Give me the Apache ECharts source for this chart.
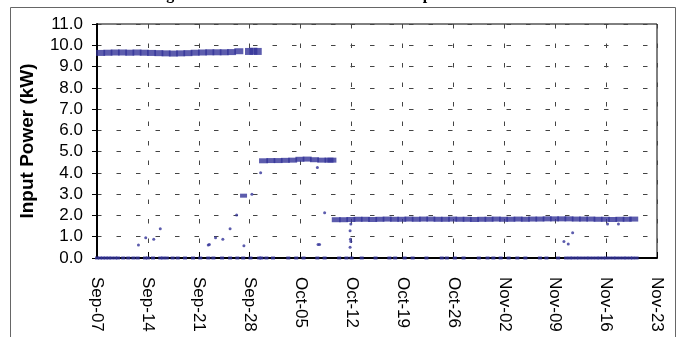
<!DOCTYPE html>
<html>
<head>
<meta charset="utf-8">
<script src="https://cdn.jsdelivr.net/npm/echarts@6/dist/echarts.min.js"></script>
<style>
    html, body { margin: 0; padding: 0; background: #fff; }
    #chart { width: 678px; height: 337px; }
</style>
</head>
<body>
<div id="chart"></div>
<script>
// x values are days since Sep-07
const tickLabels = ['Sep-07', 'Sep-14', 'Sep-21', 'Sep-28', 'Oct-05', 'Oct-12',
    'Oct-19', 'Oct-26', 'Nov-02', 'Nov-09', 'Nov-16', 'Nov-23'];

// full power band, Sep-07 .. Sep-27
const highDays = [0.5, 1.5, 2.5, 3.5, 4.5, 5.5, 6.5, 7.5, 8.5, 9.5,
    10.5, 11.5, 12.5, 13.5, 14.5, 15.5, 16.5, 17.5, 18.5, 19.5];
const highVals = [9.64, 9.65, 9.66, 9.66, 9.65, 9.66, 9.65, 9.64, 9.63, 9.62,
    9.61, 9.62, 9.63, 9.65, 9.66, 9.67, 9.67, 9.67, 9.68, 9.72];

// short block after the gap
const high2Days = [20.9, 21.5, 22.1];
const high2Vals = [9.71, 9.72, 9.71];

// short step near 3 kW
const stepDays = [20.15];
const stepVals = [2.93];

// middle band
const midDays = [22.9, 23.9, 24.9, 25.9, 26.9, 27.9, 28.9, 29.9, 30.9, 31.9, 32.3];
const midVals = [4.57, 4.58, 4.58, 4.59, 4.60, 4.64, 4.65, 4.62, 4.60, 4.60, 4.60];

// low band, Oct-10 .. Nov-20
const lowDays = [32.9, 33.9, 34.9, 35.9, 36.9, 37.9, 38.9, 39.9, 40.9, 41.9,
    42.9, 43.9, 44.9, 45.9, 46.9, 47.9, 48.9, 49.9, 50.9, 51.9,
    52.9, 53.9, 54.9, 55.9, 56.9, 57.9, 58.9, 59.9, 60.9, 61.9,
    62.9, 63.9, 64.9, 65.9, 66.9, 67.9, 68.9, 69.9, 70.9, 71.9, 72.9, 73.8];
const lowVals = [1.80, 1.80, 1.81, 1.82, 1.82, 1.81, 1.82, 1.83, 1.82, 1.82,
    1.83, 1.82, 1.83, 1.83, 1.82, 1.82, 1.83, 1.82, 1.82, 1.81,
    1.82, 1.82, 1.83, 1.82, 1.82, 1.83, 1.82, 1.83, 1.83, 1.84,
    1.84, 1.84, 1.84, 1.83, 1.83, 1.83, 1.82, 1.82, 1.81, 1.82, 1.82, 1.83];

// scattered transition readings
const strayDays = [5.7, 6.7, 7.8, 8.7, 15.3, 15.45, 16.3, 17.3, 18.3, 19.2, 20.2, 21.3,
    22.5, 30.3, 30.4, 30.6, 31.3, 34.9, 34.8, 34.85, 34.9, 34.8,
    64.2, 64.8, 65.4, 70.2, 71.7];
const strayVals = [0.61, 0.95, 0.88, 1.38, 0.61, 0.63, 0.95, 0.88, 1.38, 2.02, 0.57, 3.00,
    4.01, 4.26, 0.64, 0.64, 2.13, 1.60, 1.28, 0.88, 0.77, 0.50,
    0.77, 0.66, 1.19, 1.60, 1.60];

// off readings (0 kW)
const zeroDays = [0, 0.4, 0.8, 1.2, 1.6, 2.0, 2.5, 2.9, 3.6, 4.3, 5.0, 5.6, 6.6, 7.0, 7.7,
    8.7, 9.1, 9.6, 10.4, 11.1, 12.1, 13.2, 14.2, 15.3, 16.0, 17.2, 18.3, 19.3, 20.1,
    21.1, 22.3, 22.6, 23.3, 24.2, 26.3, 27.4, 28.4, 30.3, 31.3, 33.3, 34.3, 35.0,
    36.4, 38.3, 40.2, 41.0, 42.3, 43.4, 45.3, 47.4, 48.1, 49.2, 50.4, 52.5, 53.7,
    54.5, 55.5, 56.6, 57.8, 58.9, 60.9, 61.8, 63.4,
    64.5, 65.0, 65.4, 65.9, 66.3, 66.8, 67.3, 67.7, 68.2, 68.7, 69.1, 69.6, 70.0,
    70.5, 71.0, 71.4, 71.9, 72.4, 72.8, 73.3, 73.7, 74.2];

const COLOR = '#333399';
const FONT = 'Liberation Sans, Arial, sans-serif';

function pairs(xs, ys) {
    return xs.map((x, i) => [x, ys[i]]);
}

function band(name, xs, ys, size) {
    return {
        name: name,
        type: 'scatter',
        symbol: 'rect',
        symbolSize: size,
        data: pairs(xs, ys),
        itemStyle: {color: COLOR}
    };
}

const chart = echarts.init(document.getElementById('chart'));

const gridLine = {
    show: true,
    lineStyle: {color: '#444', width: 1, type: [4.5, 15]}
};

chart.setOption({
    animation: false,
    grid: {
        left: 97, right: 21, top: 24, bottom: 79,
        outerBoundsMode: 'none',
        containLabel: false,
        show: true,
        borderColor: '#000',
        borderWidth: 1
    },
    graphic: [
        {
            type: 'rect',
            shape: {x: 10.5, y: 7.5, width: 665, height: 340},
            style: {fill: 'none', stroke: '#666', lineWidth: 1},
            silent: true
        },
        {
            type: 'text',
            x: 120, y: -13,
            style: {
                text: 'Heating Element Measured Total Electric Input Power',
                font: 'bold 16px Liberation Serif, Times New Roman, serif',
                fill: '#000',
                textVerticalAlign: 'top'
            },
            silent: true
        }
    ],
    xAxis: {
        type: 'value',
        min: 0,
        max: 77,
        interval: 7,
        axisLine: {show: true, onZero: false, lineStyle: {color: '#000', width: 2}},
        axisTick: {show: true, inside: true, length: 6, lineStyle: {color: '#000'}},
        axisLabel: {
            rotate: -90,
            margin: 19,
            color: '#000',
            fontFamily: FONT,
            fontSize: 17,
            formatter: v => tickLabels[Math.round(v / 7)]
        },
        splitLine: gridLine
    },
    yAxis: {
        type: 'value',
        min: 0,
        max: 11,
        interval: 1,
        name: 'Input Power (kW)',
        nameLocation: 'middle',
        nameGap: 60,
        nameTextStyle: {color: '#000', fontFamily: FONT, fontSize: 19, fontWeight: 'bold'},
        axisLine: {show: true, lineStyle: {color: '#000', width: 2}},
        axisTick: {show: true, length: 5, lineStyle: {color: '#000'}},
        axisLabel: {
            margin: 14,
            color: '#000',
            fontFamily: FONT,
            fontSize: 17,
            formatter: v => v.toFixed(1)
        },
        splitLine: gridLine
    },
    series: [
        band('high', highDays, highVals, [9, 6]),
        band('high2', high2Days, high2Vals, [8, 7]),
        band('step', stepDays, stepVals, [7, 4]),
        band('mid', midDays, midVals, [9, 5]),
        band('low', lowDays, lowVals, [9, 5]),
        band('off', zeroDays, zeroDays.map(() => 0), [4, 3]),
        {
            name: 'stray',
            type: 'scatter',
            symbol: 'circle',
            symbolSize: 3,
            data: pairs(strayDays, strayVals),
            itemStyle: {color: COLOR}
        }
    ]
});
</script>
</body>
</html>
